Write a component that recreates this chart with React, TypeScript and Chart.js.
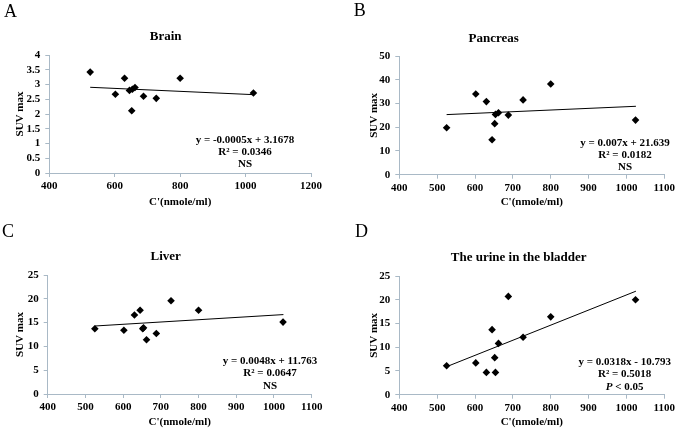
import React, { useEffect, useRef } from 'react';
import { Chart, registerables } from 'chart.js';

Chart.register(...registerables);

// ---------- data ----------
const xValues = [525, 602, 630, 645, 652, 654, 662, 688, 727, 800, 1024];
const brainSUV = [3.42, 2.67, 3.21, 2.8, 2.11, 2.84, 2.9, 2.6, 2.53, 3.21, 2.71];
const pancreasSUV = [19.8, 34.0, 30.8, 14.7, 21.5, 25.4, 26.1, 25.1, 31.5, 38.2, 23.0];
const liverSUV = [13.7, 13.4, 16.6, 17.6, 13.7, 13.9, 11.4, 12.7, 19.6, 17.6, 15.1];
const urineSUV = [6.1, 6.7, 4.7, 13.7, 7.8, 4.7, 10.8, 20.7, 12.1, 16.4, 20.0];

const panelLetters = ['A', 'B', 'C', 'D'];
const panelTitles = ['Brain', 'Pancreas', 'Liver', 'The urine in the bladder'];
const trendSlopes = [-0.0005, 0.007, 0.0048, 0.0318];
const trendIntercepts = [3.1678, 21.639, 11.763, -10.793];
const rSquaredLabels = ['0.0346', '0.0182', '0.0647', '0.5018'];
const significanceLabels = ['NS', 'NS', 'NS', '*P* < 0.05'];
const xTickMin = [400, 400, 400, 400];
const xTickMax = [1200, 1100, 1100, 1100];
const xTickStep = [200, 100, 100, 100];
const yTickMax = [4, 50, 25, 25];
const yTickStep = [0.5, 10, 5, 5];
const xAxisTitle = "C'(nmole/ml)";
const yAxisTitle = 'SUV max';

const seriesList = [brainSUV, pancreasSUV, liverSUV, urineSUV];

// ---------- layout / style ----------
const layouts = [
  { left: 0, top: 0, w: 342, h: 220, plotLeft: 49.3, plotRight: 311, plotTop: 55, plotBottom: 173, yTitleX: 20.5, titleX: 165.7, titleY: 37, letterX: 4, letterY: 12.5, annX: 245, annY: [140, 152.5, 164.5] },
  { left: 342, top: 0, w: 343, h: 220, plotLeft: 57.3, plotRight: 322.3, plotTop: 56, plotBottom: 174.7, yTitleX: 32.3, titleX: 151.7, titleY: 39, letterX: 11.7, letterY: 11, annX: 283, annY: [143, 155.5, 167] },
  { left: 0, top: 220, w: 342, h: 220, plotLeft: 47.7, plotRight: 311.7, plotTop: 55, plotBottom: 174, yTitleX: 20, titleX: 165.7, titleY: 36.7, letterX: 2, letterY: 12.3, annX: 270, annY: [141, 153.3, 165.7] },
  { left: 342, top: 220, w: 343, h: 220, plotLeft: 57.3, plotRight: 322.3, plotTop: 56, plotBottom: 174.7, yTitleX: 32, titleX: 176.7, titleY: 37.3, letterX: 13, letterY: 12.3, annX: 282.7, annY: [142, 154, 166.7] },
];

const SERIF = '"Liberation Serif", "Times New Roman", serif';
const AXIS_COLOR = '#a9b9c6';

function fmt(n: number) {
  return String(n);
}

function equationText(i: number) {
  const s = trendSlopes[i];
  const b = trendIntercepts[i];
  return `y = ${fmt(s)}x ${b < 0 ? '-' : '+'} ${fmt(Math.abs(b))}`;
}

const panelTextPlugin = {
  id: 'panelText',
  afterDraw(chart: any, _args: any, opts: any) {
    const ctx = chart.ctx;
    ctx.save();
    ctx.fillStyle = '#000';
    // panel letter
    ctx.font = `18px ${SERIF}`;
    ctx.textAlign = 'left';
    ctx.textBaseline = 'middle';
    ctx.fillText(opts.letter, opts.letterX, opts.letterY);
    // title
    ctx.font = `bold 13px ${SERIF}`;
    ctx.textAlign = 'center';
    ctx.fillText(opts.title, opts.titleX, opts.titleY);
    // annotation lines (segments wrapped in * are italic)
    opts.lines.forEach((line: string, li: number) => {
      const parts = line.split('*');
      const segs = parts.map((t: string, k: number) => ({ t, italic: k % 2 === 1 })).filter((s: any) => s.t.length);
      let total = 0;
      segs.forEach((s: any) => {
        ctx.font = `${s.italic ? 'italic ' : ''}bold 11px ${SERIF}`;
        s.w = ctx.measureText(s.t).width;
        total += s.w;
      });
      let x = opts.annX - total / 2;
      ctx.textAlign = 'left';
      segs.forEach((s: any) => {
        ctx.font = `${s.italic ? 'italic ' : ''}bold 11px ${SERIF}`;
        ctx.fillText(s.t, x, opts.annY[li]);
        x += s.w;
      });
    });
    ctx.restore();
  },
};

function Panel({ index }: { index: number }) {
  const ref = useRef<HTMLCanvasElement | null>(null);
  const L = layouts[index];

  useEffect(() => {
    if (!ref.current) return;
    const series = seriesList[index];
    const points = xValues.map((x, k) => ({ x, y: series[k] }));
    const xMin = Math.min(...xValues);
    const xMax = Math.max(...xValues) + 1;
    const trend = [xMin, xMax].map((x) => ({ x, y: trendSlopes[index] * x + trendIntercepts[index] }));

    const tickFont = { family: SERIF, size: 11, weight: 'bold' as const };

    const chart = new Chart(ref.current, {
      type: 'scatter',
      data: {
        datasets: [
          {
            data: points,
            pointStyle: 'rectRot',
            pointRadius: 3.8,
            pointBackgroundColor: '#000',
            pointBorderColor: '#000',
            pointBorderWidth: 0,
            showLine: false,
          },
          {
            data: trend,
            showLine: true,
            borderColor: '#000',
            borderWidth: 1,
            pointRadius: 0,
            fill: false,
          },
        ],
      },
      options: {
        animation: false,
        responsive: false,
        devicePixelRatio: 1,
        layout: {
          padding: { left: 0, top: L.plotTop, right: L.w - L.plotRight, bottom: 0 },
        },
        plugins: {
          legend: { display: false },
          tooltip: { enabled: false },
          title: { display: false },
          panelText: {
            letter: panelLetters[index],
            letterX: L.letterX,
            letterY: L.letterY,
            title: panelTitles[index],
            titleX: L.titleX,
            titleY: L.titleY,
            lines: [equationText(index), `R² = ${rSquaredLabels[index]}`, significanceLabels[index]],
            annX: L.annX,
            annY: L.annY,
          },
        } as any,
        scales: {
          x: {
            type: 'linear',
            min: xTickMin[index],
            max: xTickMax[index],
            afterFit: (scale: any) => {
              scale.height = L.h - L.plotBottom;
            },
            ticks: {
              stepSize: xTickStep[index],
              autoSkip: false,
              maxRotation: 0,
              color: '#000',
              font: tickFont,
              padding: 3,
              callback: (v: any) => String(v),
            },
            grid: {
              display: true,
              drawOnChartArea: false,
              drawTicks: true,
              tickLength: 4,
              color: AXIS_COLOR,
            },
            border: { display: true, color: AXIS_COLOR, width: 1 },
            title: {
              display: true,
              text: xAxisTitle,
              color: '#000',
              font: { family: SERIF, size: 11, weight: 'bold' },
              padding: { top: 0, bottom: 11.7 },
            },
          },
          y: {
            type: 'linear',
            min: 0,
            max: yTickMax[index],
            afterFit: (scale: any) => {
              scale.width = L.plotLeft;
            },
            ticks: {
              stepSize: yTickStep[index],
              autoSkip: false,
              color: '#000',
              font: tickFont,
              padding: 5,
              callback: (v: any) => String(v),
            },
            grid: {
              display: true,
              drawOnChartArea: false,
              drawTicks: true,
              tickLength: 4,
              color: AXIS_COLOR,
            },
            border: { display: true, color: AXIS_COLOR, width: 1 },
            title: {
              display: true,
              text: yAxisTitle,
              color: '#000',
              font: { family: SERIF, size: 11, weight: 'bold' },
              padding: { top: L.yTitleX - 6.6, bottom: 0 },
            },
          },
        },
      },
      plugins: [panelTextPlugin],
    } as any);

    return () => chart.destroy();
  }, [index]);

  return (
    <canvas
      ref={ref}
      width={L.w}
      height={L.h}
      style={{ position: 'absolute', left: L.left, top: L.top, width: L.w, height: L.h }}
    />
  );
}

export default function App() {
  return (
    <div
      style={{
        position: 'fixed',
        left: 0,
        top: 0,
        width: 685,
        height: 441,
        background: '#fff',
        overflow: 'hidden',
      }}
    >
      {[0, 1, 2, 3].map((i) => (
        <Panel key={i} index={i} />
      ))}
    </div>
  );
}
